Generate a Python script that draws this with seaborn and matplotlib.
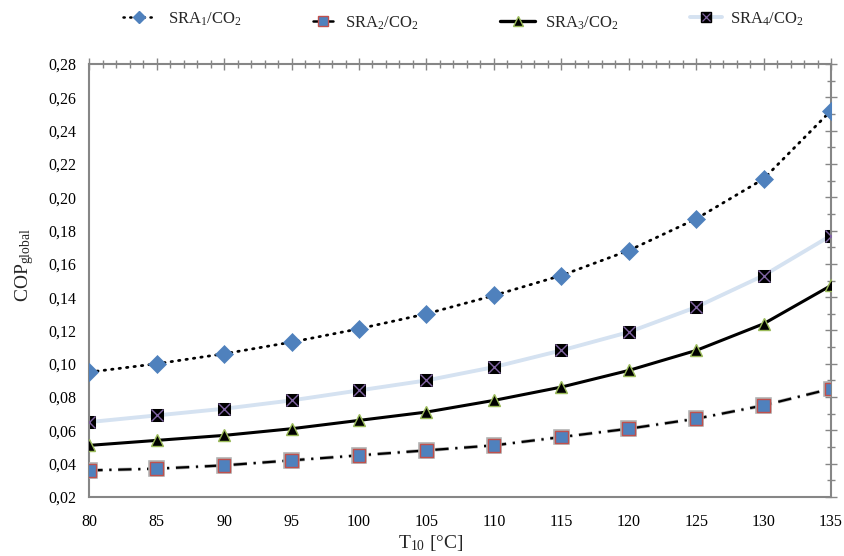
import matplotlib
matplotlib.use("Agg")
import matplotlib.pyplot as plt
import matplotlib.patheffects as pe
from matplotlib.ticker import MultipleLocator, FuncFormatter
from matplotlib.lines import Line2D
from matplotlib.legend_handler import HandlerTuple
import seaborn as sns
import pandas as pd

# ---- data ----
T10 = [80, 85, 90, 95, 100, 105, 110, 115, 120, 125, 130, 135]
SRA1 = [0.095, 0.100, 0.106, 0.113, 0.121, 0.130, 0.141, 0.153, 0.168, 0.187, 0.211, 0.252]
SRA2 = [0.036, 0.037, 0.039, 0.042, 0.045, 0.048, 0.051, 0.056, 0.061, 0.067, 0.075, 0.085]
SRA3 = [0.051, 0.054, 0.057, 0.061, 0.066, 0.071, 0.078, 0.086, 0.096, 0.108, 0.124, 0.147]
SRA4 = [0.065, 0.069, 0.073, 0.078, 0.084, 0.090, 0.098, 0.108, 0.119, 0.134, 0.153, 0.177]
labels = ["SRA$_1$/CO$_2$", "SRA$_2$/CO$_2$", "SRA$_3$/CO$_2$", "SRA$_4$/CO$_2$"]

sns.set_style("white")
plt.rcParams["font.family"] = ["Liberation Serif", "DejaVu Serif"]
plt.rcParams["mathtext.fontset"] = "custom"
plt.rcParams["mathtext.rm"] = "Liberation Serif"
plt.rcParams["mathtext.it"] = "Liberation Serif:italic"
plt.rcParams["mathtext.default"] = "regular"

df = pd.DataFrame({"T": T10, "s1": SRA1, "s2": SRA2, "s3": SRA3, "s4": SRA4})

fig = plt.figure(figsize=(8.44, 5.56), dpi=100)
ax = fig.add_axes([0.1058, 0.1061, 0.8788, 0.7788])

blue = "#4F81BD"
red = "#C0504D"
green = "#9BBB59"
purple = "#8064A2"
lightblue = "#D5E2F1"

dot_style = (0, (0.5, 2.2))
dashdot_style = (0, (6, 3, 1, 3))

# SRA4 (light blue thick line, black squares with purple x)
sns.lineplot(data=df, x="T", y="s4", ax=ax, color=lightblue, linewidth=2.8,
             marker="s", markersize=9, markerfacecolor="black",
             markeredgecolor="black", zorder=2)
ax.plot(df["T"], df["s4"], linestyle="none", marker="x", markersize=8,
        markeredgecolor=purple, markeredgewidth=1.0, zorder=3)

# SRA3 solid black, triangles
sns.lineplot(data=df, x="T", y="s3", ax=ax, color="black", linewidth=2.2,
             marker="^", markersize=8, markerfacecolor="black",
             markeredgecolor=green, markeredgewidth=1.0, zorder=4)

# SRA2 dash-dot, blue squares red edge
sns.lineplot(data=df, x="T", y="s2", ax=ax, color="black", linewidth=1.6,
             marker="s", markersize=9, markerfacecolor=blue,
             markeredgecolor=red, markeredgewidth=1.0, zorder=4)
ax.lines[-1].set_linestyle(dashdot_style)
ax.lines[-1].set_path_effects([pe.Stroke(linewidth=2.6, foreground="#b0b0b0"), pe.Normal()])

# SRA1 dotted, blue diamonds
sns.lineplot(data=df, x="T", y="s1", ax=ax, color="black", linewidth=2.0,
             marker="D", markersize=9.5, markerfacecolor=blue,
             markeredgecolor=blue, markeredgewidth=0.5, zorder=5)
ax.lines[-1].set_linestyle(dot_style)
ax.lines[-1].set_dash_capstyle("round")

ax.set_xlim(80, 135)
ax.set_ylim(0.02, 0.28)
ax.xaxis.set_major_locator(MultipleLocator(5))
ax.xaxis.set_minor_locator(MultipleLocator(1))
ax.yaxis.set_major_locator(MultipleLocator(0.02))
ax.yaxis.set_minor_locator(MultipleLocator(0.01))
ax.yaxis.set_major_formatter(FuncFormatter(lambda v, p: f"{v:.2f}".replace(".", ",")))

axcol = "#868686"
for s in ax.spines.values():
    s.set_color(axcol)
    s.set_linewidth(1.5)
ax.tick_params(which="both", direction="inout", color=axcol, top=True, right=True,
               labelsize=11.5, labelcolor="black", width=1.0)
ax.tick_params(which="major", length=9)
ax.tick_params(which="minor", length=6)
ax.tick_params(axis="x", which="major", pad=8)
ax.tick_params(axis="y", which="major", pad=5)

ax.set_xlabel("T$_{10}$ [°C]", fontsize=14)
ax.xaxis.set_label_coords(0.46, -0.084)
ax.set_ylabel("COP$_{\\mathrm{global}}$", fontsize=14)
ax.yaxis.set_label_coords(-0.072, 0.536)

handles = [
    Line2D([], [], color="black", linewidth=1.8, linestyle=dot_style,
           dash_capstyle="round", marker="D", markersize=6, markerfacecolor=blue,
           markeredgecolor=blue),
    Line2D([], [], color="black", linewidth=1.8, linestyle="-",
           marker="s", markersize=7, markerfacecolor=blue, markeredgecolor=red),
    Line2D([], [], color="black", linewidth=2.4, marker="^", markersize=7,
           markerfacecolor="black", markeredgecolor=green),
    (Line2D([], [], color=lightblue, linewidth=2.8, marker="s", markersize=7,
            markerfacecolor="black", markeredgecolor="black"),
     Line2D([], [], linestyle="none", marker="x", markersize=6,
            markeredgecolor=purple, markeredgewidth=0.9)),
]
# (left x px, center y px, handlelength, handletextpad)
placements = [(123, 19, 1.9, 0.8), (313, 23, 1.2, 0.7), (500, 23, 2.1, 0.6), (690, 19, 1.9, 0.5)]
for h, lab, (px, py, hl, tp) in zip(handles, labels, placements):
    fig.legend([h], [lab], loc="center left", bbox_to_anchor=(px / 844, 1 - py / 556),
               frameon=False, fontsize=12, handlelength=hl, handletextpad=tp,
               borderpad=0, borderaxespad=0,
               handler_map={tuple: HandlerTuple(ndivide=1, pad=0)})

fig.savefig("out.png", dpi=100)
